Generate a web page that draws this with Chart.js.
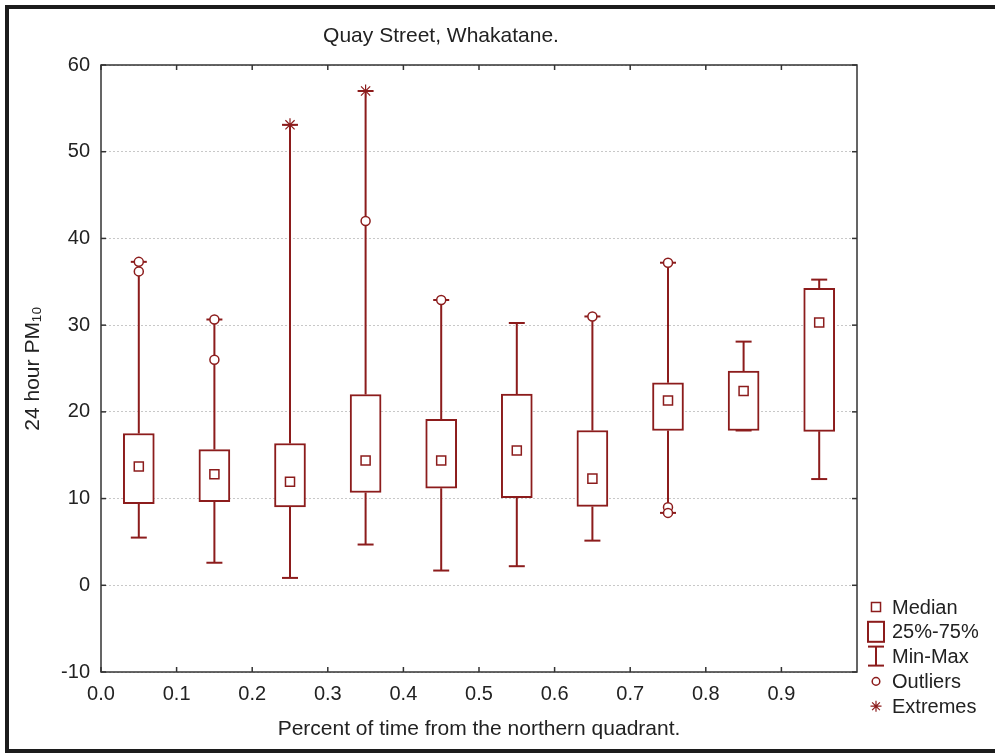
<!DOCTYPE html>
<html>
<head>
<meta charset="utf-8">
<script src="https://cdn.jsdelivr.net/npm/chart.js@4.4.1/dist/chart.umd.min.js"></script>
<style>
html, body { margin: 0; padding: 0; background: #fff; }
#wrap { position: relative; width: 995px; height: 755px; }
</style>
</head>
<body>
<div id="wrap"><canvas id="myChart" width="995" height="755"></canvas></div>
<script>
// values, one entry per box
const xCenters = [0.05, 0.15, 0.25, 0.35, 0.45, 0.55, 0.65, 0.75, 0.85, 0.95];
const medians  = [13.7, 12.8, 11.95, 14.4, 14.4, 15.55, 12.3, 21.3, 22.4, 30.3];
const q1       = [9.4, 9.65, 9.05, 10.7, 11.2, 10.1, 9.1, 17.85, 17.85, 17.75];
const q3       = [17.5, 15.65, 16.35, 22.0, 19.15, 22.05, 17.85, 23.35, 24.7, 34.25];
const mins     = [5.5, 2.6, 0.85, 4.7, 1.7, 2.2, 5.15, 8.35, 17.85, 12.25];
const maxs     = [37.3, 30.65, 53.1, 57.0, 32.9, 30.25, 31.0, 37.2, 28.1, 35.25];

const outlierX = [0.05, 0.05, 0.15, 0.15, 0.35, 0.45, 0.65, 0.75, 0.75, 0.75];
const outlierY = [37.3, 36.2, 30.65, 26.0, 42.0, 32.9, 31.0, 37.2, 9.0, 8.35];
const extremeX = [0.25, 0.35];
const extremeY = [53.1, 57.0];

const xTickValues = [0, 0.1, 0.2, 0.3, 0.4, 0.5, 0.6, 0.7, 0.8, 0.9];
const yTickValues = [-10, 0, 10, 20, 30, 40, 50, 60];
const legendLabels = ['Median', '25%-75%', 'Min-Max', 'Outliers', 'Extremes'];

const chartTitle = 'Quay Street, Whakatane.';
const xTitle = 'Percent of time from the northern quadrant.';
const yTitle = '24 hour PM\u2081\u2080';

const boxColor = 'rgb(140, 28, 28)';
const textColor = '#222';
const fontFamily = "'Liberation Sans', Arial, sans-serif";

Chart.defaults.font.family = fontFamily;
Chart.defaults.color = textColor;

// whisker segments: q3 -> max and q1 -> min, gaps in between
let whiskerPoints = [];
let capPoints = [];
for (let i = 0; i < xCenters.length; i++) {
    whiskerPoints.push({x: xCenters[i], y: q3[i]}, {x: xCenters[i], y: maxs[i]}, {x: xCenters[i], y: null});
    whiskerPoints.push({x: xCenters[i], y: q1[i]}, {x: xCenters[i], y: mins[i]}, {x: xCenters[i], y: null});
    capPoints.push({x: xCenters[i], y: mins[i]}, {x: xCenters[i], y: maxs[i]});
}

function line(ctx, x1, y1, x2, y2) {
    ctx.beginPath();
    ctx.moveTo(x1, y1);
    ctx.lineTo(x2, y2);
    ctx.stroke();
}

const framePlugin = {
    id: 'frame',
    beforeDraw(chart) {
        const ctx = chart.ctx;
        ctx.save();
        ctx.fillStyle = '#fff';
        ctx.fillRect(0, 0, chart.width, chart.height);
        ctx.fillStyle = '#1c1c1c';
        ctx.fillRect(5, 5, chart.width - 5, 4);
        ctx.fillRect(5, 5, 4, 748);
        ctx.fillRect(5, 749, chart.width - 5, 4);
        ctx.restore();
    },
    afterDraw(chart) {
        const ctx = chart.ctx;
        const {left, right, top, bottom} = chart.chartArea;
        const xs = chart.scales.x;
        const ys = chart.scales.y;
        ctx.save();

        // plot border + inside tick marks
        ctx.strokeStyle = '#333';
        ctx.lineWidth = 1.5;
        xTickValues.forEach(v => {
            const px = xs.getPixelForValue(v);
            line(ctx, px, bottom, px, bottom - 5);
            line(ctx, px, top, px, top + 5);
        });
        yTickValues.forEach(v => {
            const py = ys.getPixelForValue(v);
            line(ctx, left, py, left + 5, py);
            line(ctx, right, py, right - 5, py);
        });
        ctx.strokeRect(left, top, right - left, bottom - top);

        // title
        ctx.fillStyle = textColor;
        ctx.font = '21px ' + fontFamily;
        ctx.textAlign = 'center';
        ctx.textBaseline = 'middle';
        ctx.fillText(chartTitle, 441, 36);

        // legend
        const lx = right + 19;
        const ly0 = bottom - 65;
        const step = 24.8;
        ctx.strokeStyle = boxColor;
        legendLabels.forEach((lab, i) => {
            const cy = ly0 + i * step;
            ctx.fillStyle = '#fff';
            if (i === 0) {
                ctx.lineWidth = 1.5;
                Chart.helpers.drawPoint(ctx, {pointStyle: 'rect', radius: 6.4, rotation: 0, borderWidth: 1.5}, lx, cy);
            } else if (i === 1) {
                ctx.lineWidth = 2;
                ctx.strokeRect(lx - 8, cy - 10, 16, 20);
            } else if (i === 2) {
                ctx.lineWidth = 2;
                line(ctx, lx - 8, cy - 10, lx + 8, cy - 10);
                line(ctx, lx - 8, cy + 9, lx + 8, cy + 9);
                line(ctx, lx, cy - 10, lx, cy + 9);
            } else if (i === 3) {
                ctx.lineWidth = 1.5;
                Chart.helpers.drawPoint(ctx, {pointStyle: 'circle', radius: 3.8, rotation: 0, borderWidth: 1.5}, lx, cy);
            } else {
                ctx.lineWidth = 1.2;
                Chart.helpers.drawPoint(ctx, {pointStyle: 'star', radius: 5.5, rotation: 0, borderWidth: 1.2}, lx, cy);
            }
            ctx.fillStyle = textColor;
            ctx.font = '20px ' + fontFamily;
            ctx.textAlign = 'left';
            ctx.textBaseline = 'middle';
            ctx.fillText(lab, right + 35, cy + 1);
        });
        ctx.restore();
    }
};

const config = {
    type: 'scatter',
    data: {
        datasets: [
            {
                label: 'Extremes',
                data: extremeX.map((x, i) => ({x: x, y: extremeY[i]})),
                pointStyle: 'star',
                pointRadius: 6.5,
                borderColor: boxColor,
                borderWidth: 1.2,
            },
            {
                label: 'Outliers',
                data: outlierX.map((x, i) => ({x: x, y: outlierY[i]})),
                pointStyle: 'circle',
                pointRadius: 4.5,
                backgroundColor: '#fff',
                borderColor: boxColor,
                borderWidth: 1.5,
            },
            {
                label: 'Median',
                data: xCenters.map((x, i) => ({x: x, y: medians[i]})),
                pointStyle: 'rect',
                pointRadius: 6.4,
                backgroundColor: '#fff',
                borderColor: boxColor,
                borderWidth: 1.5,
            },
            {
                label: 'Caps',
                data: capPoints,
                pointStyle: 'line',
                pointRadius: 8,
                borderColor: boxColor,
                borderWidth: 2,
            },
            {
                type: 'bar',
                label: '25%-75%',
                data: xCenters.map((x, i) => ({x: x, y: [q1[i], q3[i]]})),
                backgroundColor: '#fff',
                borderColor: boxColor,
                borderWidth: 2,
                borderSkipped: false,
                barThickness: 31,
            },
            {
                type: 'line',
                label: 'Min-Max',
                data: whiskerPoints,
                borderColor: boxColor,
                borderWidth: 2,
                pointRadius: 0,
                spanGaps: false,
                fill: false,
            },
        ]
    },
    options: {
        responsive: false,
        animation: false,
        events: [],
        devicePixelRatio: 1,
        layout: {padding: {left: 17, right: 138, top: 65, bottom: 9}},
        plugins: {
            legend: {display: false},
            title: {display: false},
            tooltip: {enabled: false},
        },
        scales: {
            x: {
                type: 'linear',
                min: 0,
                max: 1,
                offset: false,
                afterBuildTicks: s => { s.ticks = xTickValues.map(v => ({value: v})); },
                afterFit: s => { s.height = 74; },
                grid: {display: false, drawTicks: false, offset: false},
                border: {display: false},
                ticks: {
                    color: textColor,
                    font: {size: 20},
                    padding: 10,
                    autoSkip: false,
                    maxRotation: 0,
                    callback: v => v.toFixed(1),
                },
                title: {display: true, text: xTitle, color: textColor, font: {size: 21}, padding: {top: 4, bottom: 4}},
            },
            y: {
                type: 'linear',
                min: -10,
                max: 60,
                afterBuildTicks: s => { s.ticks = yTickValues.map(v => ({value: v})); },
                afterFit: s => { s.width = 84; },
                grid: {color: '#c8c8c8', lineWidth: 1, drawTicks: false},
                border: {display: false, dash: [2, 2]},
                ticks: {color: textColor, font: {size: 20}, padding: 11},
                title: {display: true, text: yTitle, color: textColor, font: {size: 21}, padding: {top: 4, bottom: 4}},
            }
        }
    },
    plugins: [framePlugin]
};

const myChart = new Chart(document.getElementById('myChart'), config);
</script>
</body>
</html>
